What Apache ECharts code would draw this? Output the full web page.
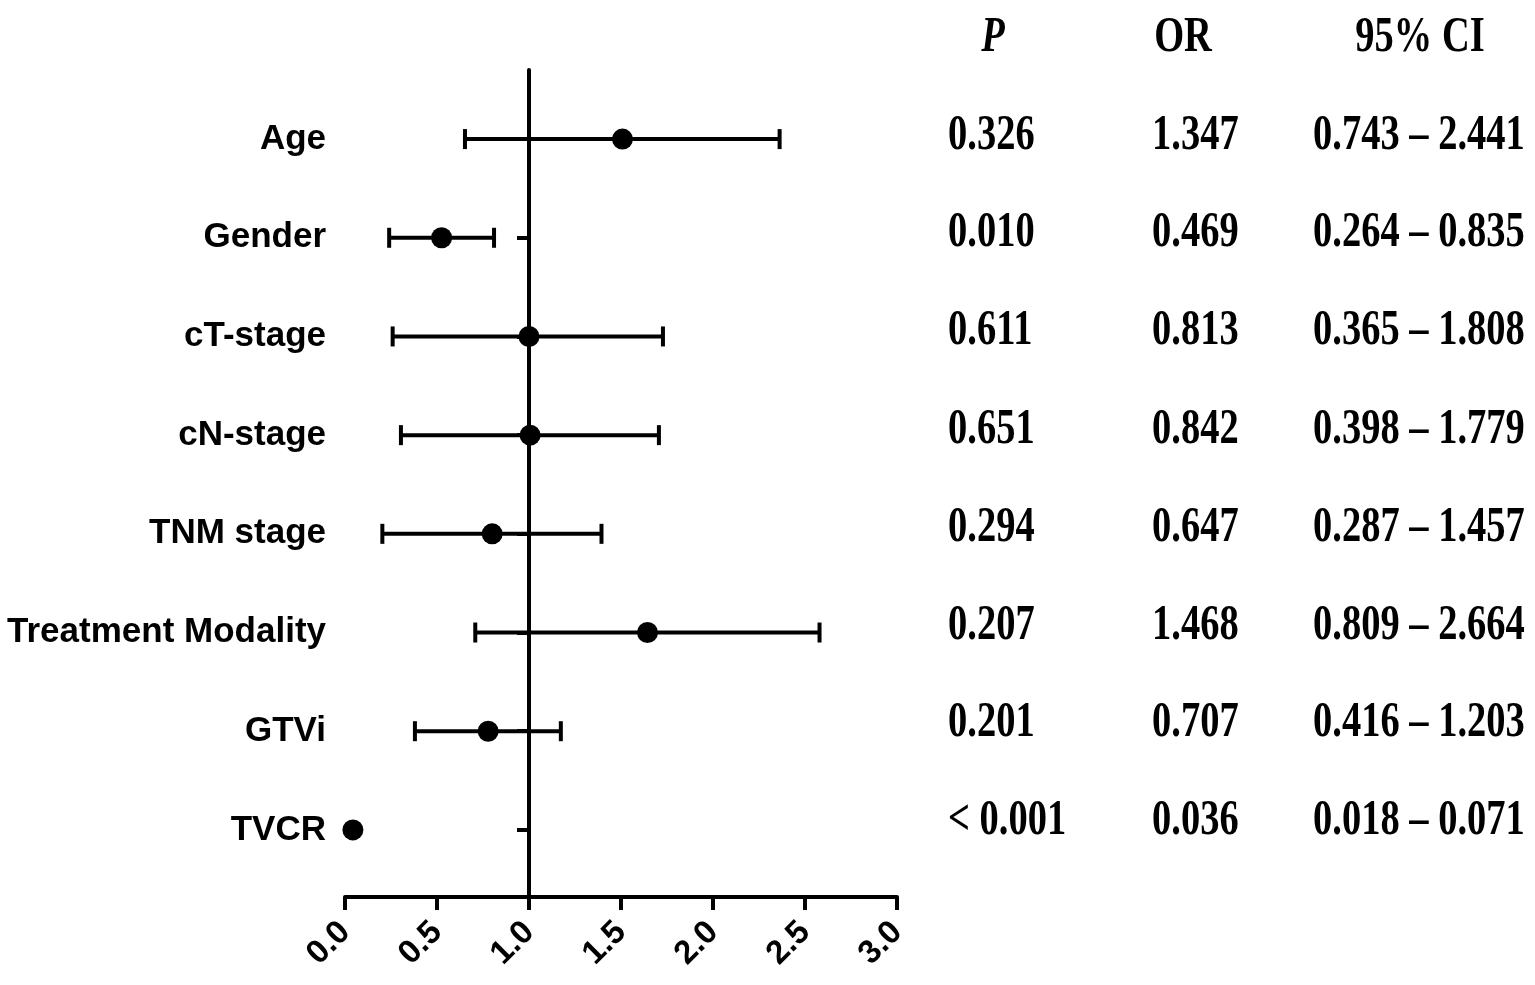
<!DOCTYPE html>
<html>
<head>
<meta charset="utf-8">
<script src="https://cdn.jsdelivr.net/npm/echarts@6/dist/echarts.min.js"></script>
<style>
  html, body { margin: 0; padding: 0; background: #fff; }
  #main { width: 1535px; height: 985px; }
</style>
</head>
<body>
<div id="main"></div>
<script>
var myChart = echarts.init(document.getElementById('main'));

// 数据
var categories = ['Age', 'Gender', 'cT-stage', 'cN-stage', 'TNM stage', 'Treatment Modality', 'GTVi', 'TVCR'];
var pointOR = [1.508, 0.525, 1.0, 1.006, 0.800, 1.644, 0.778, 0.043];
var ciLow = [0.652, 0.240, 0.259, 0.304, 0.203, 0.708, 0.380, null];
var ciHigh = [2.362, 0.810, 1.728, 1.706, 1.394, 2.579, 1.173, null];

// 表格文字
var pText = ['0.326', '0.010', '0.611', '0.651', '0.294', '0.207', '0.201', '< 0.001'];
var orText = ['1.347', '0.469', '0.813', '0.842', '0.647', '1.468', '0.707', '0.036'];
var ciText = ['0.743 \u2013 2.441', '0.264 \u2013 0.835', '0.365 \u2013 1.808', '0.398 \u2013 1.779',
              '0.287 \u2013 1.457', '0.809 \u2013 2.664', '0.416 \u2013 1.203', '0.018 \u2013 0.071'];

var rowIdx = categories.map(function (c, i) { return i; });

var gridLeft = 345, gridRight = 638, gridTop = 70, gridBottom = 88;
var gridW = 1535 - gridLeft - gridRight;
var xMin = 0, xMax = 3, refX = 1;
// 参考线位置 (x = 1)
var refOffset = -gridW * (refX - xMin) / (xMax - xMin);

var scatterData = pointOR.map(function (v, i) { return [v, i]; });
var ciData = [];
ciLow.forEach(function (lo, i) {
    if (lo != null) ciData.push([i, lo, ciHigh[i]]);
});

var serif = '"Liberation Serif", "Times New Roman", serif';
var sx = 0.77;
var graphics = [];
function addText(txt, x, y, align, italic) {
    graphics.push({
        type: 'text', x: x, y: y, scaleX: sx,
        style: {
            text: txt,
            font: (italic ? 'italic ' : '') + 'bold 50px ' + serif,
            fill: '#000',
            textAlign: align,
            textVerticalAlign: 'middle'
        }
    });
}
addText('P', 993, 38, 'center', true);
addText('OR', 1183, 38, 'center', false);
addText('95% CI', 1420, 38, 'center', false);
var tableY = [136, 233, 331, 430, 528, 626, 723, 821];
rowIdx.forEach(function (i) {
    addText(pText[i], 948, tableY[i], 'left');
    addText(orText[i], 1152, tableY[i], 'left');
    addText(ciText[i], 1313, tableY[i], 'left');
});

var yBase = {
    type: 'value',
    inverse: true,
    min: -0.70,
    max: 7.68,
    splitLine: { show: false }
};

var option = {
    animation: false,
    backgroundColor: '#fff',
    grid: {
        left: gridLeft, right: gridRight, top: gridTop, bottom: gridBottom,
        outerBoundsMode: 'none'
    },
    xAxis: {
        type: 'value',
        min: xMin,
        max: xMax,
        interval: 0.5,
        splitLine: { show: false },
        axisLine: { onZero: false, lineStyle: { color: '#000', width: 4 } },
        axisTick: { length: 13, lineStyle: { color: '#000', width: 4 } },
        axisLabel: {
            rotate: 45,
            margin: 30,
            color: '#000',
            fontFamily: '"Liberation Sans", Arial, sans-serif',
            fontWeight: 'bold',
            fontSize: 33,
            formatter: function (v) { return v.toFixed(1); }
        }
    },
    yAxis: [
        Object.assign({}, yBase, {
            position: 'left',
            offset: refOffset,
            axisLine: { show: true, onZero: false, lineStyle: { color: '#000', width: 4 } },
            axisTick: { show: true, length: 12, customValues: rowIdx, lineStyle: { color: '#000', width: 4 } },
            axisLabel: { show: false }
        }),
        Object.assign({}, yBase, {
            position: 'left',
            offset: 0,
            axisLine: { show: false, onZero: false },
            axisTick: { show: false },
            axisLabel: {
                customValues: rowIdx,
                margin: 19,
                color: '#000',
                fontFamily: '"Liberation Sans", Arial, sans-serif',
                fontWeight: 'bold',
                fontSize: 35,
                formatter: function (v) { return categories[Math.round(v)]; }
            }
        })
    ],
    series: [
        {
            name: 'CI',
            type: 'custom',
            yAxisIndex: 0,
            encode: { x: [1, 2], y: 0 },
            data: ciData,
            z: 3,
            renderItem: function (params, api) {
                var y = api.value(0);
                var p1 = api.coord([api.value(1), y]);
                var p2 = api.coord([api.value(2), y]);
                var h = 10;
                var st = { stroke: '#000', lineWidth: 4 };
                return {
                    type: 'group',
                    children: [
                        { type: 'line', shape: { x1: p1[0], y1: p1[1], x2: p2[0], y2: p2[1] }, style: st },
                        { type: 'line', shape: { x1: p1[0], y1: p1[1] - h, x2: p1[0], y2: p1[1] + h }, style: st },
                        { type: 'line', shape: { x1: p2[0], y1: p2[1] - h, x2: p2[0], y2: p2[1] + h }, style: st }
                    ]
                };
            }
        },
        {
            name: 'OR',
            type: 'scatter',
            yAxisIndex: 0,
            symbol: 'circle',
            symbolSize: 21,
            itemStyle: { color: '#000', opacity: 1 },
            data: scatterData,
            z: 4
        }
    ],
    graphic: graphics
};

myChart.setOption(option);
</script>
</body>
</html>
